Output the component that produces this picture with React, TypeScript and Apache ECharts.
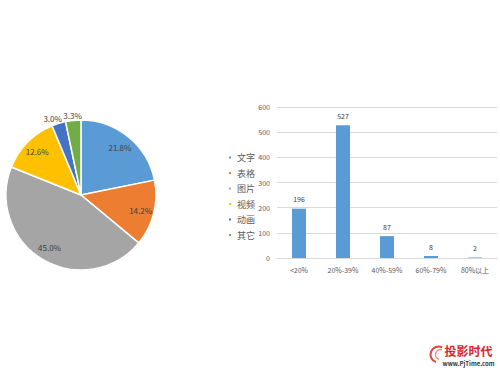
import React, { useEffect, useRef } from "react";
import * as echarts from "echarts";

const pieNames = ["文字", "表格", "图片", "视频", "动画", "其它"];
const pieValues = [21.8, 14.2, 45.0, 12.6, 3.0, 3.3];
const pieColors = ["#5B9BD5", "#ED7D31", "#A5A5A5", "#FFC000", "#4472C4", "#70AD47"];
const outsideLabels = ["动画", "其它"];

const barCategories = ["<20%", "20%-39%", "40%-59%", "60%-79%", "80%以上"];
const barValues = [196, 527, 87, 8, 2];
const yTicks = { min: 0, max: 600, interval: 100 };

const FONT = "Noto Sans CJK SC";

export default function App() {
  const ref = useRef<HTMLDivElement>(null);
  useEffect(() => {
    const chart = echarts.init(ref.current!, undefined, { renderer: "svg" });
    const pieData = pieNames.map((n, i) => ({
      name: n,
      value: pieValues[i],
      itemStyle: { color: pieColors[i] },
    }));
    const labelData = (outside: boolean) =>
      pieNames.map((n, i) => ({
        name: n,
        value: pieValues[i],
        label: {
          show: outsideLabels.includes(n) === outside,
          offset: n === "动画" ? [-4, 2] : n === "其它" ? [0, 2] : [0, 0],
        },
      }));
    const labelSeries = (outside: boolean) => ({
      type: "pie",
      center: [81, 195],
      radius: outside ? [76, 82] : [42, 75],
      startAngle: 90,
      clockwise: true,
      silent: true,
      avoidLabelOverlap: false,
      labelLayout: { hideOverlap: false },
      data: labelData(outside),
      itemStyle: { color: "rgba(0,0,0,0)", borderWidth: 0 },
      emphasis: { disabled: true },
      labelLine: { show: false },
      label: {
        position: "inside",
        fontSize: 8,
        color: "#404040",
        fontFamily: FONT,
        formatter: (p: any) => Number(p.value).toFixed(1) + "%",
      },
      legendHoverLink: false,
    });
    chart.setOption({
      animation: false,
      textStyle: { fontFamily: FONT },
      legend: {
        orient: "vertical",
        left: 227,
        top: 153,
        padding: 0,
        itemWidth: 4,
        itemHeight: 4,
        itemGap: 6.5,
        icon: "rect",
        data: pieNames.map((n, i) => ({
          name: n,
          itemStyle: { color: pieColors[i] },
          textStyle: { color: "#595959" },
        })),
        textStyle: { fontSize: 9, color: "#595959", fontFamily: FONT },
        selectedMode: false,
      },
      grid: { left: 277, right: 3, top: 107, bottom: 117 },
      xAxis: {
        type: "category",
        data: barCategories,
        axisLine: { lineStyle: { color: "#d9d9d9" } },
        axisTick: { show: false },
        axisLabel: { fontSize: 7, color: "#595959", margin: 8 },
      },
      yAxis: {
        type: "value",
        min: yTicks.min,
        max: yTicks.max,
        interval: yTicks.interval,
        axisLine: { show: false },
        axisTick: { show: false },
        axisLabel: { fontSize: 7, color: "#595959", margin: 7 },
        splitLine: { lineStyle: { color: "#d9d9d9", width: 1 } },
      },
      series: [
        {
          type: "pie",
          name: "pie",
          center: [81, 195],
          radius: [0, 75],
          startAngle: 90,
          clockwise: true,
          silent: true,
          data: pieData,
          itemStyle: { borderColor: "#ffffff", borderWidth: 1.5 },
          label: { show: false },
          labelLine: { show: false },
        },
        labelSeries(false),
        labelSeries(true),
        {
          type: "bar",
          data: barValues,
          barWidth: 14,
          itemStyle: { color: "#5B9BD5" },
          label: { show: true, position: "top", fontSize: 7, color: "#404040", distance: 6 },
        },
      ],
      graphic: [
        {
          type: "group",
          left: 428,
          top: 344,
          children: [
            { type: "arc", shape: { cx: 8, cy: 10, r: 8, startAngle: 1.9, endAngle: 5.2 }, style: { stroke: "#e0463c", lineWidth: 2, fill: null } },
            { type: "arc", shape: { cx: 10, cy: 10, r: 5, startAngle: 1.9, endAngle: 5.0 }, style: { stroke: "#f08a80", lineWidth: 1.5, fill: null } },
            { type: "text", x: 14, y: 0, style: { text: "投影时代", fontSize: 12, fontWeight: "bold", fill: "#d9262c", fontFamily: FONT } },
            { type: "text", x: 12, y: 16, style: { text: "www.PjTime.com", fontSize: 6, fontWeight: "bold", fill: "#333", fontFamily: FONT } },
          ],
        },
      ],
    });
    return () => chart.dispose();
  }, []);
  return (
    <div
      ref={ref}
      style={{ position: "fixed", left: 0, top: 0, width: 500, height: 375, background: "#fff" }}
    />
  );
}
